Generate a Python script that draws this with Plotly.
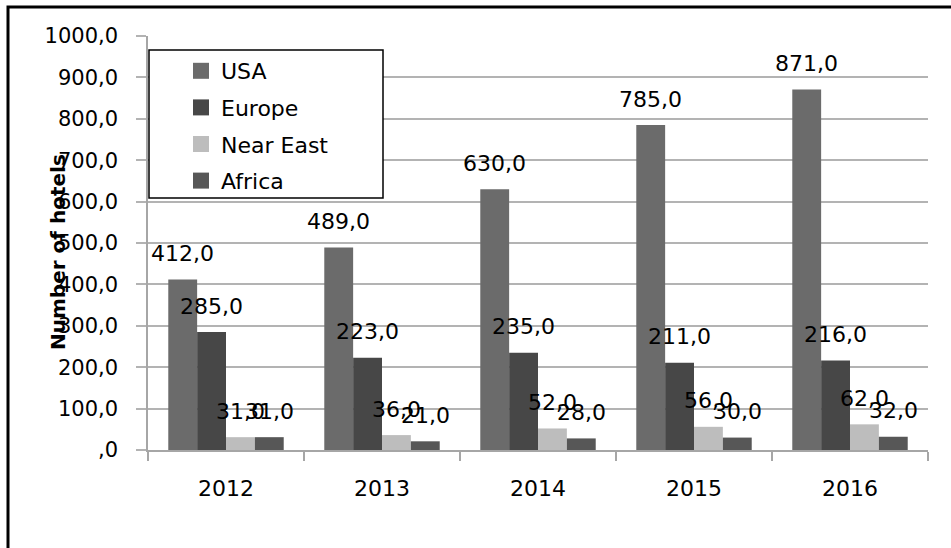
import plotly.graph_objects as go

# Hotel counts by region and year
years = ["2012", "2013", "2014", "2015", "2016"]
usa = [412, 489, 630, 785, 871]
europe = [285, 223, 235, 211, 216]
near_east = [31, 36, 52, 56, 62]
africa = [31, 21, 28, 30, 32]

series_names = ["USA", "Europe", "Near East", "Africa"]
series_values = [usa, europe, near_east, africa]
series_colors = ["#6b6b6b", "#474747", "#bdbdbd", "#575757"]

y_ticks = list(range(0, 1001, 100))
y_tick_text = [f"{v},0" if v else ",0" for v in y_ticks]

FONT = "DejaVu Sans"
W, H = 951, 548
ML, MR, MT, MB = 148, 23, 36, 98
PW, PH = W - ML - MR, H - MT - MB
BARGAP = 0.26


def px_x(px):
    return (px - ML) / PW


def px_y(py):
    return (H - MB - py) / PH


fig = go.Figure()

for name, vals, color in zip(series_names, series_values, series_colors):
    fig.add_trace(go.Bar(
        x=years, y=vals, name=name, marker=dict(color=color, line=dict(width=0)),
        showlegend=False, legendgroup=name,
    ))

# legend entries with larger square swatches
for name, color in zip(series_names, series_colors):
    fig.add_trace(go.Scatter(
        x=[None], y=[None], mode="markers", name=name, legendgroup=name,
        marker=dict(symbol="square", size=16, color=color),
    ))

# value labels above each bar
n = len(series_names)
bw = (1 - BARGAP) / n
annotations = []
for i, vals in enumerate(series_values):
    for j, v in enumerate(vals):
        annotations.append(dict(
            x=j + (i - (n - 1) / 2) * bw, y=v, xref="x", yref="y",
            text=f"{v},0", showarrow=False, yshift=26,
            font=dict(family=FONT, size=22, color="#000"),
        ))

annotations.append(dict(
    x=px_x(58), y=px_y(252), xref="paper", yref="paper",
    xanchor="center", yanchor="middle",
    text="<b>Number of hotels</b>", textangle=-90, showarrow=False,
    font=dict(family=FONT, size=20, color="#000"),
))

shapes = [
    # outer frame (left and top edges)
    dict(type="path", xref="paper", yref="paper",
         path=f"M {px_x(8)},{px_y(560)} L {px_x(8)},{px_y(7)} L {px_x(960)},{px_y(7)}",
         line=dict(color="#000", width=3)),
    # legend box
    dict(type="rect", xref="paper", yref="paper",
         x0=px_x(149), x1=px_x(383), y0=px_y(198), y1=px_y(50),
         fillcolor="#fff", line=dict(color="#000", width=1.5), layer="above"),
]

fig.update_layout(
    width=W, height=H,
    margin=dict(l=ML, r=MR, t=MT, b=MB),
    paper_bgcolor="#fff", plot_bgcolor="#fff",
    barmode="group", bargap=BARGAP, bargroupgap=0,
    font=dict(family=FONT, color="#000"),
    annotations=annotations, shapes=shapes,
    legend=dict(
        x=px_x(181), y=px_y(50), xanchor="left", yanchor="top",
        bgcolor="rgba(0,0,0,0)", borderwidth=0,
        font=dict(family=FONT, size=22, color="#000"),
        traceorder="grouped", tracegroupgap=5,
    ),
    xaxis=dict(
        type="category", showgrid=False, showline=True,
        linecolor="#a6a6a6", linewidth=1.5,
        ticks="outside", tickson="boundaries", ticklen=9,
        tickcolor="#a6a6a6", tickwidth=1.5,
        tickfont=dict(family=FONT, size=22, color="#000"),
        ticklabelstandoff=18,
    ),
    yaxis=dict(
        range=[0, 1000], tickvals=y_ticks, ticktext=y_tick_text,
        showgrid=True, gridcolor="#b3b3b3", gridwidth=1.5,
        showline=True, linecolor="#a6a6a6", linewidth=1.5,
        ticks="outside", ticklen=10, tickcolor="#b3b3b3", tickwidth=1.5,
        tickfont=dict(family=FONT, size=21, color="#000"),
        ticklabelstandoff=14, zeroline=False,
    ),
)

fig.write_html("out.html")
